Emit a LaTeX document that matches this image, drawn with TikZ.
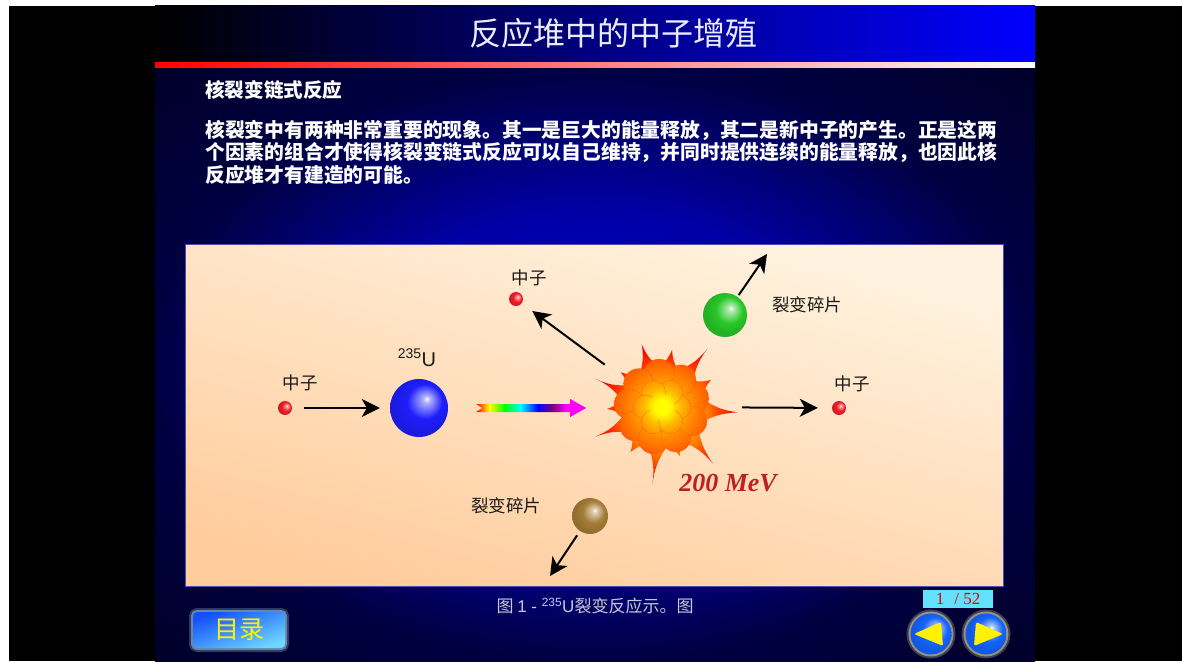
\documentclass[tikz,border=0pt]{standalone}
\usepackage{fontspec}
\usepackage{xcolor}
\usepackage{tikz}
\usetikzlibrary{positioning,calc,arrows.meta,shapes.geometric}
\setmainfont{Noto Sans CJK SC}
\newfontfamily\arialfont{Liberation Sans}
\newfontfamily\tnrfont{Liberation Serif}

\definecolor{navyhi}{RGB}{0,0,210}
\definecolor{navymid}{RGB}{0,0,165}
\definecolor{navylo}{RGB}{0,0,65}
\definecolor{navyedge}{RGB}{0,0,30}
\definecolor{peachhi}{RGB}{255,243,224}
\definecolor{peachlo}{RGB}{255,204,156}
\definecolor{mevred}{RGB}{190,30,40}
\definecolor{capgray}{RGB}{200,200,215}
\definecolor{pagecyan}{RGB}{100,225,255}
\definecolor{btnlo}{RGB}{20,80,255}
\definecolor{btnhi}{RGB}{110,215,255}
\definecolor{navblue}{RGB}{20,100,255}
\definecolor{nred}{RGB}{240,30,40}
\definecolor{ublue}{RGB}{30,30,255}
\definecolor{fraggreen}{RGB}{40,200,40}
\definecolor{fragbrown}{RGB}{165,125,55}
\colorlet{orbcolor}{red}

\pgfdeclareradialshading{slidebg}{\pgfpoint{0bp}{0bp}}{color(0bp)=(navyhi); color(13bp)=(navymid); color(25bp)=(navylo); color(40bp)=(navyedge)}
\pgfdeclareradialshading{blast}{\pgfpoint{0bp}{0bp}}{color(0bp)=(yellow); color(8bp)=(orange!70!yellow); color(14bp)=(orange); color(19bp)=(orange!45!red); color(24bp)=(red); color(50bp)=(red)}
\pgfdeclareradialshading{blastcore}{\pgfpoint{0bp}{0bp}}{color(0bp)=(yellow); color(3bp)=(yellow); color(8bp)=(yellow!45!orange); color(13bp)=(orange!90!yellow); color(19bp)=(orange!80!red); color(25bp)=(orange!50!red); color(50bp)=(orange!50!red)}
\pgfdeclarehorizontalshading{spectrum}{100bp}{color(0bp)=(red); color(25bp)=(red); color(31bp)=(yellow); color(38bp)=(green); color(45bp)=(cyan); color(53bp)=(blue); color(60bp)=(violet); color(66bp)=(magenta); color(100bp)=(magenta)}
\pgfdeclareradialshading[orbcolor]{orb}{\pgfpoint{7bp}{8bp}}{color(0bp)=(white); color(3bp)=(orbcolor!35!white); color(15bp)=(orbcolor); color(25bp)=(orbcolor!88!black); color(50bp)=(orbcolor!88!black)}

\tikzset{
  orb/.code={\colorlet{orbcolor}{#1}\pgfkeysalso{circle, inner sep=0pt, shade, shading=orb}},
  neutron/.style={orb=nred, minimum size=14pt},
  lbl/.style={font=\fontsize{17.5}{20}\selectfont, text=black!90, inner sep=0pt},
  flow/.style={-{Stealth[length=18pt,width=18pt,inset=5pt]}, line width=2pt},
  petal/.style={orange!70!red, line width=.7pt, opacity=.55},
  glow/.style={preaction={draw=#1, line width=8pt, opacity=.25},
               preaction={draw=#1, line width=4pt, opacity=.45}},
  navorb/.style={ellipse, inner sep=0pt, minimum width=39pt, minimum height=41pt,
                 shade, shading=orb, glow=yellow!30!white},
}

\begin{document}
\begin{tikzpicture}[x=1pt,y=-1pt]
\useasboundingbox (0,0) rectangle (1182,661);
\fill[white] (0,0) rectangle (1182,661);
\fill[black] (9,6) rectangle (1182,661);

% slide background, title bar and rule
\shade[shading=slidebg] (155,67) rectangle (1035,661);
\shade[left color=black, right color=blue] (155,6) rectangle (1035,62);
\shade[left color=red, right color=white] (155,62) rectangle (1035,67);

\node[font=\fontsize{32}{36}\selectfont, text=white!92!blue] (title) at (613,33) {反应堆中的中子增殖};
\node[anchor=west, inner sep=0pt, text=white, font=\bfseries\fontsize{19.6}{22}\selectfont] (sub) at (205,90) {核裂变链式反应};
\node[anchor=west, align=left, inner sep=0pt, text=white, font=\bfseries\fontsize{19.8}{22.5}\selectfont] (body) at (205,152)
  {核裂变中有两种非常重要的现象。其一是巨大的能量释放，其二是新中子的产生。正是这两\\
   个因素的组合才使得核裂变链式反应可以自己维持，并同时提供连续的能量释放，也因此核\\
   反应堆才有建造的可能。};

% figure panel
\shadedraw[top color=peachhi, bottom color=peachlo, shading angle=-15, draw=gray!60!blue, line width=.8pt] (185,244) rectangle (1003,586);

\node[neutron] (n1) at (285,408) {};
\node[orb=ublue, minimum size=58pt] (u235) at (419,408) {};
\node[circle, minimum size=80pt, inner sep=0pt] (blast) at (662,407) {};
\node[neutron] (n2) at (516,299) {};
\node[neutron] (n3) at (839,408) {};
\node[orb=fraggreen, minimum size=44pt] (gfrag) at (725,315) {};
\node[orb=fragbrown, minimum size=36pt] (bfrag) at (590,516) {};
\coordinate (gfly) at (767,254);
\coordinate (bfly) at (550,576);

% the burst: spikes, two rings of petals, hot core
\begin{scope}[shift={(blast.center)}, y=1pt]
  \shade[shading=blast] (-178:55)
    foreach \a/\r in {-167/40,-156/73,-140/40,-125/55,-111/40,-97/78,-83/40,-70/52,-59/41,-48/76,
                      -26/40,-4/76,12/41,29/56,40/41,52/74,66/40,80/58,94/40,108/66,124/40,140/54,
                      148/41,157/73,170/41} { to[bend left=14] (\a:\r) } to[bend left=14] cycle;
  \foreach \a in {15,55,...,335} {
    \begin{scope}
      \clip (\a:33) circle[radius=15];
      \shade[shading=blastcore] (0,0) circle[radius=58];
    \end{scope}
    \draw[petal] (\a:33) circle[radius=15];
  }
  \foreach \a in {0,60,...,300} {
    \begin{scope}
      \clip (\a:17) circle[radius=12];
      \shade[shading=blastcore] (0,0) circle[radius=58];
    \end{scope}
    \draw[petal] (\a:17) circle[radius=12];
  }
  \begin{scope}
    \clip (0,0) circle[radius=13];
    \shade[shading=blastcore] (0,0) circle[radius=58];
  \end{scope}
\end{scope}

\shade[shading=spectrum] ($(u235.east)+(28,-4)$) -- ++(94,0) -- ++(0,-5) -- ++(16,9) -- ++(-16,9)
  -- ++(0,-5) -- ++(-94,0) -- ++(6,-4) -- cycle;

\draw[flow, shorten <=12pt, shorten >=10pt] (n1) -- (u235);
\draw[flow, shorten <=31pt, shorten >=13pt] (blast) -- (n2);
\draw[flow, shorten <=40pt, shorten >=14pt] (blast) -- (n3);
\draw[flow, shorten <=2pt] (gfrag) -- (gfly);
\draw[flow, shorten <=5pt] (bfrag) -- (bfly);

\node[lbl] (ln1) at (300,383) {中子};
\node[lbl, anchor=base, font=\arialfont\fontsize{20}{22}\selectfont] (lu) at (417,366) {\textsuperscript{235}U};
\node[lbl] (ln2) at (529,278) {中子};
\node[lbl] (ln3) at (852,384) {中子};
\node[lbl] (lg) at (807,305) {裂变碎片};
\node[lbl] (lb) at (506,506) {裂变碎片};
\node[anchor=base, text=mevred, font=\tnrfont\bfseries\itshape\fontsize{26}{28}\selectfont] (mev) at (728,491) {200 MeV};

% caption and navigation
\node[text=capgray, font=\fontsize{17}{19}\selectfont] (cap) at (595,606)
  {图 {\arialfont 1 - \textsuperscript{235}U}裂变反应示。图};
\node[rounded corners=4pt, minimum width=92pt, minimum height=36pt, left color=btnlo, right color=btnhi,
      shading angle=20, glow=cyan!30!white, text=yellow, font=\fontsize{25}{27}\selectfont] (toc) at (239,630) {目录};
\node[fill=pagecyan, minimum width=70pt, minimum height=18pt, inner sep=0pt, text=red!90!black,
      font=\tnrfont\fontsize{17}{19}\selectfont] (page) at (958,599) {1\hspace{10pt}/ 52};
\node[navorb, orb=navblue] (prev) at (931,634) {};
\node[navorb, orb=navblue] (next) at (986,634) {};
\fill[yellow, rounded corners=2pt] ($(prev)+(-17,0)$) -- ($(prev)+(10,-12)$) -- ($(prev)+(12,12)$) -- cycle;
\fill[yellow, rounded corners=2pt] ($(next)+(17,0)$) -- ($(next)+(-10,-12)$) -- ($(next)+(-12,12)$) -- cycle;
\end{tikzpicture}
\end{document}
